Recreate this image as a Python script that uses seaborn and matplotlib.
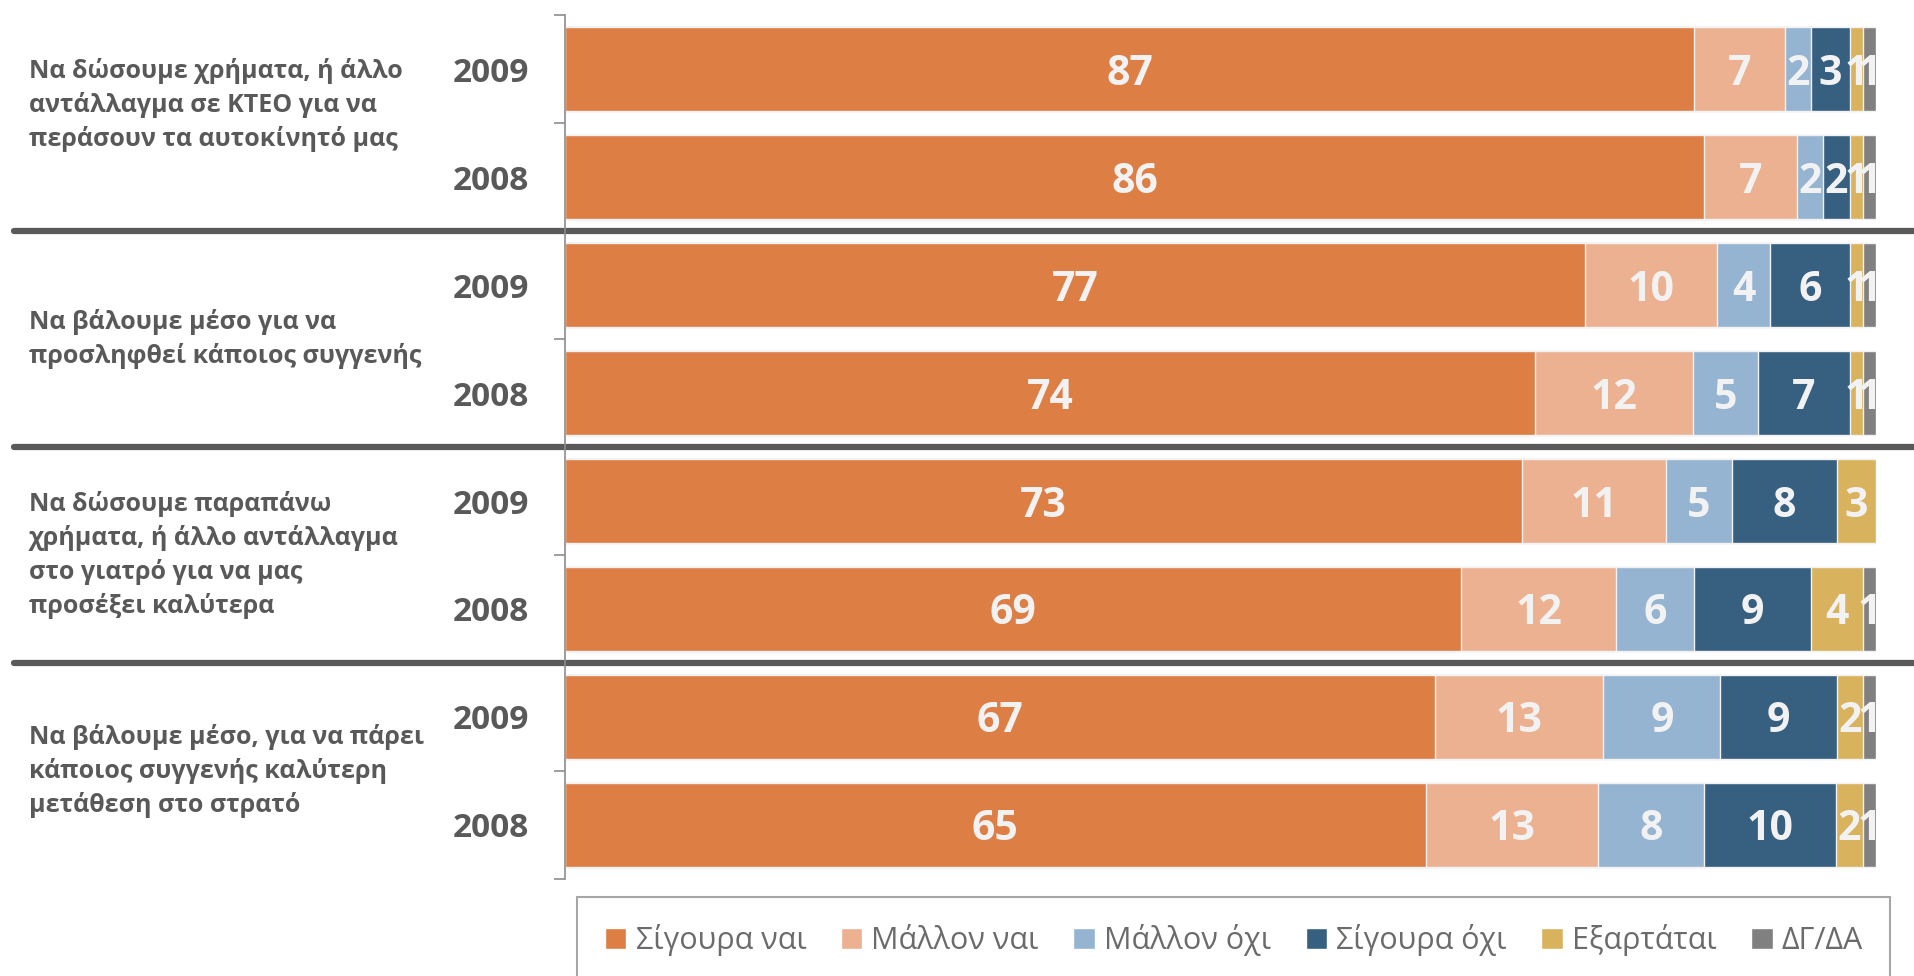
import numpy as np
import pandas as pd
import matplotlib.pyplot as plt
import matplotlib.transforms as mtransforms
from matplotlib.patches import Patch
import seaborn as sns

# data
questions = [
    "Να δώσουμε χρήματα, ή άλλο\nαντάλλαγμα σε ΚΤΕΟ για να\nπεράσουν τα αυτοκίνητό μας",
    "Να βάλουμε μέσο για να\nπροσληφθεί κάποιος συγγενής",
    "Να δώσουμε παραπάνω\nχρήματα, ή άλλο αντάλλαγμα\nστο γιατρό για να μας\nπροσέξει καλύτερα",
    "Να βάλουμε μέσο, για να πάρει\nκάποιος συγγενής καλύτερη\nμετάθεση στο στρατό",
]
years = ["2009", "2008"]
answers = ["Σίγουρα ναι", "Μάλλον ναι", "Μάλλον όχι", "Σίγουρα όχι", "Εξαρτάται", "ΔΓ/ΔΑ"]
colors = ["#DD7E45", "#ECB191", "#95B4D2", "#365F80", "#D9B25E", "#808080"]

sigoura_nai = [87, 86, 77, 74, 73, 69, 67, 65]
mallon_nai = [7, 7, 10, 12, 11, 12, 13, 13]
mallon_oxi = [2, 2, 4, 5, 5, 6, 9, 8]
sigoura_oxi = [3, 2, 6, 7, 8, 9, 9, 10]
eksartatai = [1, 1, 1, 1, 3, 4, 2, 2]
dg_da = [1, 1, 1, 1, 0, 1, 1, 1]

row_keys = [f"q{q}_{y}" for q in range(len(questions)) for y in years]
df = pd.DataFrame(
    dict(zip(answers, [sigoura_nai, mallon_nai, mallon_oxi, sigoura_oxi, eksartatai, dg_da])),
    index=row_keys,
)

# 100% stacked, like the original
pct = df.div(df.sum(axis=1), axis=0) * 100
cum = pct.cumsum(axis=1)

sns.set_style("white")
plt.rcParams["font.family"] = ["Open Sans", "DejaVu Sans"]
grey = "#595959"

fig = plt.figure(figsize=(19.14, 9.76), dpi=100)
ax = fig.add_axes([0.2952, 0.0994, 0.685, 0.8852])

# draw cumulative totals back to front so each segment shows
for ans, col in reversed(list(zip(answers, colors))):
    sns.barplot(x=cum[ans].values, y=row_keys, color=col, orient="h", width=0.78,
                edgecolor="#f2f2f2", linewidth=1, saturation=1, ax=ax)

# value labels
for i, key in enumerate(row_keys):
    for ans in answers:
        v = df.loc[key, ans]
        if v > 0:
            ax.text(cum.loc[key, ans] - pct.loc[key, ans] / 2, i, str(v),
                    ha="center", va="center_baseline", color="#f2f2f2",
                    fontsize=29.5, fontweight="bold")

ax.set_xlim(0, 100)
ax.set_ylim(len(row_keys) - 0.5, -0.5)
ax.set_xticks([])
ax.set_xlabel("")
ax.set_ylabel("")
ax.set_yticks(range(len(row_keys)))
ax.set_yticklabels(years * len(questions), fontsize=24, fontweight="bold", color=grey)
ax.set_yticks(np.arange(-0.5, len(row_keys), 1), minor=True)
ax.tick_params(axis="y", which="major", length=0, pad=26)
ax.tick_params(axis="y", which="minor", length=8, width=1.2, color="#8c8c8c", left=True)
for s in ["top", "right", "bottom"]:
    ax.spines[s].set_visible(False)
ax.spines["left"].set_color("#8c8c8c")
ax.spines["left"].set_linewidth(1.2)

# separators between question groups
for g in range(1, len(questions)):
    ax.axhline(g * 2 - 0.5, xmin=-0.42, xmax=1.03, color=grey, lw=4.5, clip_on=False)

# question labels
trans = mtransforms.blended_transform_factory(fig.transFigure, ax.transData)
for g, q in enumerate(questions):
    shift = -0.17 if g == 0 else 0
    ax.text(0.015, g * 2 + 0.5 + shift, q, transform=trans, ha="left", va="center",
            fontsize=18, fontweight="bold", color=grey, linespacing=1.4)

handles = [Patch(facecolor=c, label=a) for a, c in zip(answers, colors)]
leg = fig.legend(handles=handles, loc="upper left", bbox_to_anchor=(0.3017, 0.081, 0.686, 0),
                 mode="expand", ncol=6, fontsize=22, borderpad=0.9, borderaxespad=0,
                 handlelength=0.7, handleheight=0.7, handletextpad=0.3, fancybox=False,
                 labelcolor="#6b6b6b", edgecolor="#a6a6a6", framealpha=1)
leg.get_frame().set_linewidth(1.5)

fig.savefig("out.png", dpi=100)
